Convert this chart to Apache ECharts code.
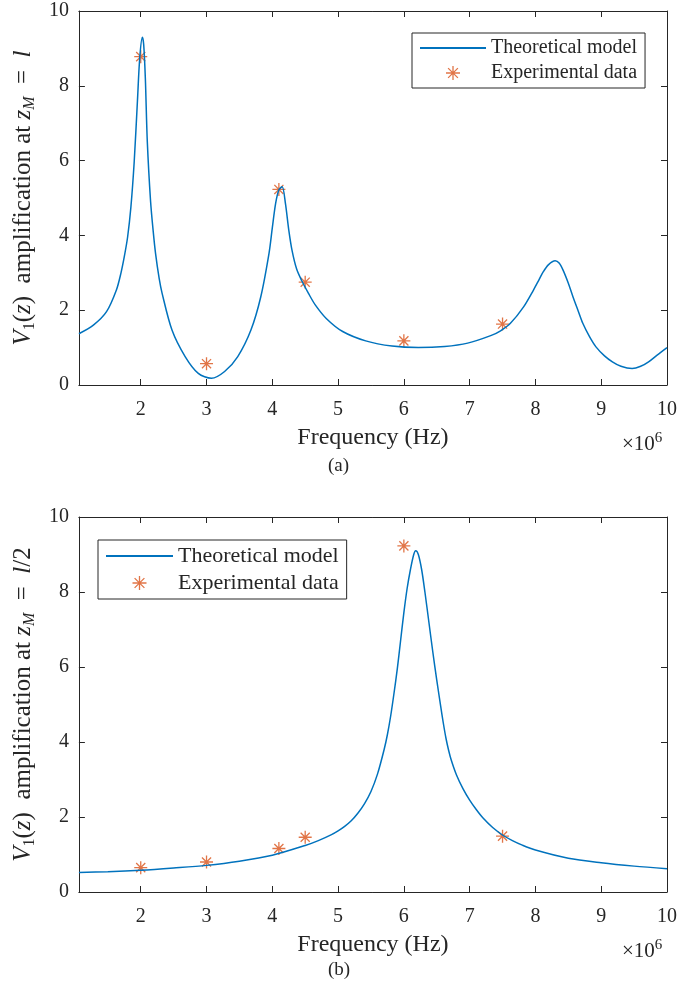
<!DOCTYPE html>
<html>
<head>
<meta charset="utf-8">
<script src="https://cdn.jsdelivr.net/npm/echarts@6/dist/echarts.min.js"></script>
<style>
  html, body { margin: 0; padding: 0; background: #ffffff; }
  #chart { width: 680px; height: 993px; }
</style>
</head>
<body>
<div id="chart"></div>
<script>
// Frequency in units of 1e6 Hz (axis shows x10^6)
const xTicks = [2, 3, 4, 5, 6, 7, 8, 9, 10];

// (a) z_M = l
const freqA = [1.06, 1.28, 1.48, 1.63, 1.70, 1.75, 1.80, 1.85, 1.90, 1.95, 1.985, 2.025, 2.045, 2.07, 2.10, 2.15,
  2.19, 2.225, 2.28, 2.325, 2.475, 2.675, 2.875, 3.075, 3.275, 3.475, 3.675, 3.825, 3.95, 4.0, 4.05, 4.10, 4.15,
  4.20, 4.25, 4.30, 4.37, 4.45, 4.55, 4.65, 4.82, 5.07, 5.42, 5.82, 6.22, 6.62, 6.97, 7.32, 7.47, 7.62, 7.82,
  7.97, 8.05, 8.12, 8.2, 8.3, 8.36, 8.42, 8.5, 8.57, 8.65, 8.72, 8.82, 8.92, 9.05, 9.17, 9.3, 9.47, 9.6, 9.72,
  9.85, 10.0];
const modelA = [1.37, 1.60, 1.96, 2.54, 3.0, 3.43, 3.95, 4.75, 5.95, 7.6, 8.75, 9.3, 9.1, 8.2, 6.5, 4.9,
  4.1, 3.52, 2.85, 2.45, 1.47, 0.76, 0.31, 0.18, 0.36, 0.76, 1.47, 2.36, 3.52, 4.2, 4.85, 5.22, 5.3,
  4.85, 4.15, 3.6, 3.1, 2.78, 2.45, 2.15, 1.78, 1.43, 1.18, 1.04, 1.0, 1.03, 1.12, 1.32, 1.45, 1.65, 2.09,
  2.54, 2.8, 3.03, 3.22, 3.32, 3.26, 3.07, 2.72, 2.36, 1.98, 1.65, 1.3, 1.02, 0.78, 0.62, 0.5, 0.44, 0.5, 0.62,
  0.8, 1.0];
const expFreqA = [2, 3, 4.1, 4.5, 6, 7.5];
const expA = [8.78, 0.57, 5.23, 2.75, 1.18, 1.63];

// (b) z_M = l/2
const freqB = [1.06, 1.5, 2.0, 2.5, 3.0, 3.5, 4.0, 4.5, 4.7, 4.9, 5.0, 5.1, 5.2, 5.3, 5.4, 5.5, 5.6, 5.7, 5.75,
  5.8, 5.85, 5.9, 5.95, 6.0, 6.05, 6.1, 6.15, 6.18, 6.22, 6.27, 6.32, 6.38, 6.44, 6.5, 6.56, 6.6, 6.64, 6.68,
  6.72, 6.8, 6.9, 7.0, 7.1, 7.2, 7.35, 7.5, 7.65, 7.8, 8.0, 8.5, 9.0, 9.5, 10.0];
const modelB = [0.52, 0.54, 0.58, 0.64, 0.71, 0.82, 0.98, 1.24, 1.37, 1.53, 1.63, 1.75, 1.9, 2.1, 2.35, 2.68, 3.15, 3.8, 4.2,
  4.7, 5.3, 5.95, 6.7, 7.45, 8.1, 8.6, 9.0, 9.1, 9.0, 8.6, 8.0, 7.2, 6.4, 5.65, 4.95, 4.5, 4.1, 3.78,
  3.52, 3.12, 2.75, 2.45, 2.2, 1.98, 1.72, 1.52, 1.37, 1.25, 1.12, 0.9, 0.78, 0.69, 0.62];
const expFreqB = [2, 3, 4.1, 4.5, 6, 7.5];
const expB = [0.65, 0.8, 1.16, 1.46, 9.23, 1.49];

const FONT = "'Liberation Serif', 'Times New Roman', serif";
const INK = '#262626';
const BLUE = '#0072BD';
const ORANGE = '#D95319';
const STAR = 'path://M10,0L10,20M0,10L20,10M3,3L17,17M3,17L17,3';

const zip = (xs, ys) => xs.map((x, i) => [x, ys[i]]);

const grids = [
  { left: 75, top: 11, width: 594, height: 374 },
  { left: 75, top: 517, width: 594, height: 375 }
];

function yName(suffix) {
  return '{i|V}{s|1}({i|z})  amplification at {i|z}{si|M}  =  {i|l}' + suffix;
}

const nameRich = {
  i: { fontStyle: 'italic', fontFamily: FONT, fontSize: 25, lineHeight: 30, color: INK },
  s: { fontFamily: FONT, fontSize: 16, lineHeight: 16, verticalAlign: 'bottom', color: INK },
  si: { fontFamily: FONT, fontSize: 16, lineHeight: 16, verticalAlign: 'bottom', fontStyle: 'italic', color: INK }
};

const axisLine = { show: true, onZero: false, lineStyle: { color: INK, width: 1 } };

function xAxes(g) {
  return [
    {
      gridIndex: g, type: 'value', min: 1.06, max: 10, position: 'bottom',
      axisLine,
      axisTick: { show: true, inside: true, length: 6, customValues: xTicks, lineStyle: { color: INK } },
      axisLabel: { customValues: xTicks, margin: 15, fontSize: 20, fontFamily: FONT, color: INK },
      splitLine: { show: false },
      name: 'Frequency (Hz)', nameLocation: 'middle', nameGap: 41,
      nameTextStyle: { fontFamily: FONT, fontSize: 24, color: INK }
    },
    {
      gridIndex: g, type: 'value', min: 1.06, max: 10, position: 'top',
      axisLine,
      axisTick: { show: true, inside: true, length: 6, customValues: xTicks, lineStyle: { color: INK } },
      axisLabel: { show: false },
      splitLine: { show: false }
    }
  ];
}

function yAxes(g, suffix) {
  return [
    {
      gridIndex: g, type: 'value', min: 0, max: 10, interval: 2, position: 'left',
      axisLine,
      axisTick: { show: true, inside: true, length: 6, lineStyle: { color: INK } },
      axisLabel: { margin: 10, fontSize: 20, fontFamily: FONT, color: INK },
      splitLine: { show: false },
      name: yName(suffix), nameLocation: 'middle', nameGap: 40,
      nameTextStyle: { fontFamily: FONT, fontSize: 25, lineHeight: 30, color: INK, rich: nameRich }
    },
    {
      gridIndex: g, type: 'value', min: 0, max: 10, interval: 2, position: 'right',
      axisLine,
      axisTick: { show: true, inside: true, length: 6, lineStyle: { color: INK } },
      axisLabel: { show: false },
      splitLine: { show: false }
    }
  ];
}

function legendData() {
  return [
    { name: 'Theoretical model', itemStyle: { opacity: 0 } },
    { name: 'Experimental data', itemStyle: { color: 'none', borderColor: ORANGE, borderWidth: 1.3 } }
  ];
}

function seriesFor(g, freq, model, expF, expV) {
  return [
    {
      name: 'Theoretical model', type: 'line', xAxisIndex: g * 2, yAxisIndex: g * 2,
      data: zip(freq, model), symbol: 'none', smooth: 0.3,
      lineStyle: { color: BLUE, width: 1.5 }, itemStyle: { color: BLUE }
    },
    {
      name: 'Experimental data', type: 'scatter', xAxisIndex: g * 2, yAxisIndex: g * 2,
      data: zip(expF, expV), symbol: STAR, symbolSize: 13,
      itemStyle: { color: 'none', borderColor: ORANGE, borderWidth: 1.3 }
    }
  ];
}

const supText = { fontFamily: FONT, fontSize: 15, verticalAlign: 'top', lineHeight: 26, fill: INK };

const chart = echarts.init(document.getElementById('chart'), null, { renderer: 'canvas' });
chart.setOption({
  animation: false,
  textStyle: { fontFamily: FONT, color: INK },
  grid: grids,
  xAxis: [...xAxes(0), ...xAxes(1)],
  yAxis: [...yAxes(0, ''), ...yAxes(1, '/2')],
  legend: [
    {
      left: 412, top: 33, orient: 'vertical', data: legendData(),
      itemWidth: 66, itemHeight: 14, itemGap: 5, padding: [5, 8, 5, 7],
      borderColor: INK, borderWidth: 1, borderRadius: 0, selectedMode: false,
      textStyle: { fontFamily: FONT, fontSize: 20, color: INK }
    },
    {
      left: 98, top: 540, orient: 'vertical', data: legendData(),
      itemWidth: 67, itemHeight: 14, itemGap: 5, padding: [5, 8, 5, 7],
      borderColor: INK, borderWidth: 1, borderRadius: 0, selectedMode: false,
      textStyle: { fontFamily: FONT, fontSize: 22, color: INK }
    }
  ],
  graphic: [
    {
      type: 'text', left: 622, top: 431,
      style: { text: '×10{sup|6}', fontFamily: FONT, fontSize: 21, fill: INK, rich: { sup: supText } }
    },
    {
      type: 'text', left: 622, top: 938,
      style: { text: '×10{sup|6}', fontFamily: FONT, fontSize: 21, fill: INK, rich: { sup: supText } }
    },
    { type: 'text', left: 328, top: 457, style: { text: '(a)', fontFamily: FONT, fontSize: 19, fill: INK } },
    { type: 'text', left: 328, top: 961, style: { text: '(b)', fontFamily: FONT, fontSize: 19, fill: INK } }
  ],
  series: [
    ...seriesFor(0, freqA, modelA, expFreqA, expA),
    ...seriesFor(1, freqB, modelB, expFreqB, expB)
  ]
});
</script>
</body>
</html>
